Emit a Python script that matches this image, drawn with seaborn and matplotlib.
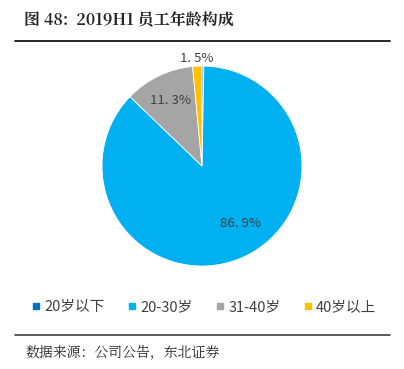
import numpy as np
import matplotlib
matplotlib.use("Agg")
import matplotlib.pyplot as plt
import seaborn as sns

# --- Data ---
categories = ["20岁以下", "20-30岁", "31-40岁", "40岁以上"]
shares = [0.3, 86.9, 11.3, 1.5]
shown_labels = ["", "86.9%", "11.3%", "1.5%"]
colors = ["#0070C0", "#00B0F0", "#A5A5A5", "#FFC000"]

sns.set_style("white")
plt.rcParams["font.family"] = ["Noto Sans CJK SC", "DejaVu Sans"]

fig = plt.figure(figsize=(4.04, 3.69), dpi=100)

# title + rule
fig.text(0.06, 0.945, "图 48:  2019H1 员工年龄构成", fontsize=11.5, fontweight="bold",
         family=["Noto Serif CJK SC", "Noto Sans CJK SC", "DejaVu Serif"], va="center")
fig.add_artist(plt.Line2D([0.037, 0.965], [0.89, 0.89], color="black", lw=1.2))

# pie
ax = fig.add_axes([0.2525, 0.279, 0.495, 0.542])
wedges, _ = ax.pie(shares, colors=colors, startangle=90, counterclock=False,
                   wedgeprops=dict(edgecolor="white", linewidth=0.6))
ax.set_xlim(-1, 1)
ax.set_ylim(-1, 1)
ax.set_aspect("equal")

# label placement: radius and small angular nudge per slice
label_dist = [0, 0.69, 0.73, 1.08]
label_nudge = [0, 11, 0, 0]
for w, lab, d, nudge in zip(wedges, shown_labels, label_dist, label_nudge):
    if not lab:
        continue
    ang = np.deg2rad((w.theta1 + w.theta2) / 2 + nudge)
    ax.text(d * np.cos(ang), d * np.sin(ang), lab.replace(".", ". "), ha="center", va="center",
            fontsize=9.5, color="#404040")

# legend
handles = [plt.Line2D([], [], marker="s", color=c, linestyle="", markersize=5) for c in colors]
fig.legend(handles, categories, loc="center", bbox_to_anchor=(0.505, 0.168), ncol=4,
           frameon=False, fontsize=10.5, handlelength=0.6, handletextpad=0.25,
           columnspacing=1.6, labelcolor="#404040")

# bottom rule + source
fig.add_artist(plt.Line2D([0.037, 0.965], [0.092, 0.092], color="#404040", lw=1.2))
fig.text(0.062, 0.045, "数据来源：公司公告，东北证券", fontsize=10, va="center",
         family=["Noto Serif CJK SC", "Noto Sans CJK SC"])

fig.savefig("out.png", dpi=100)
